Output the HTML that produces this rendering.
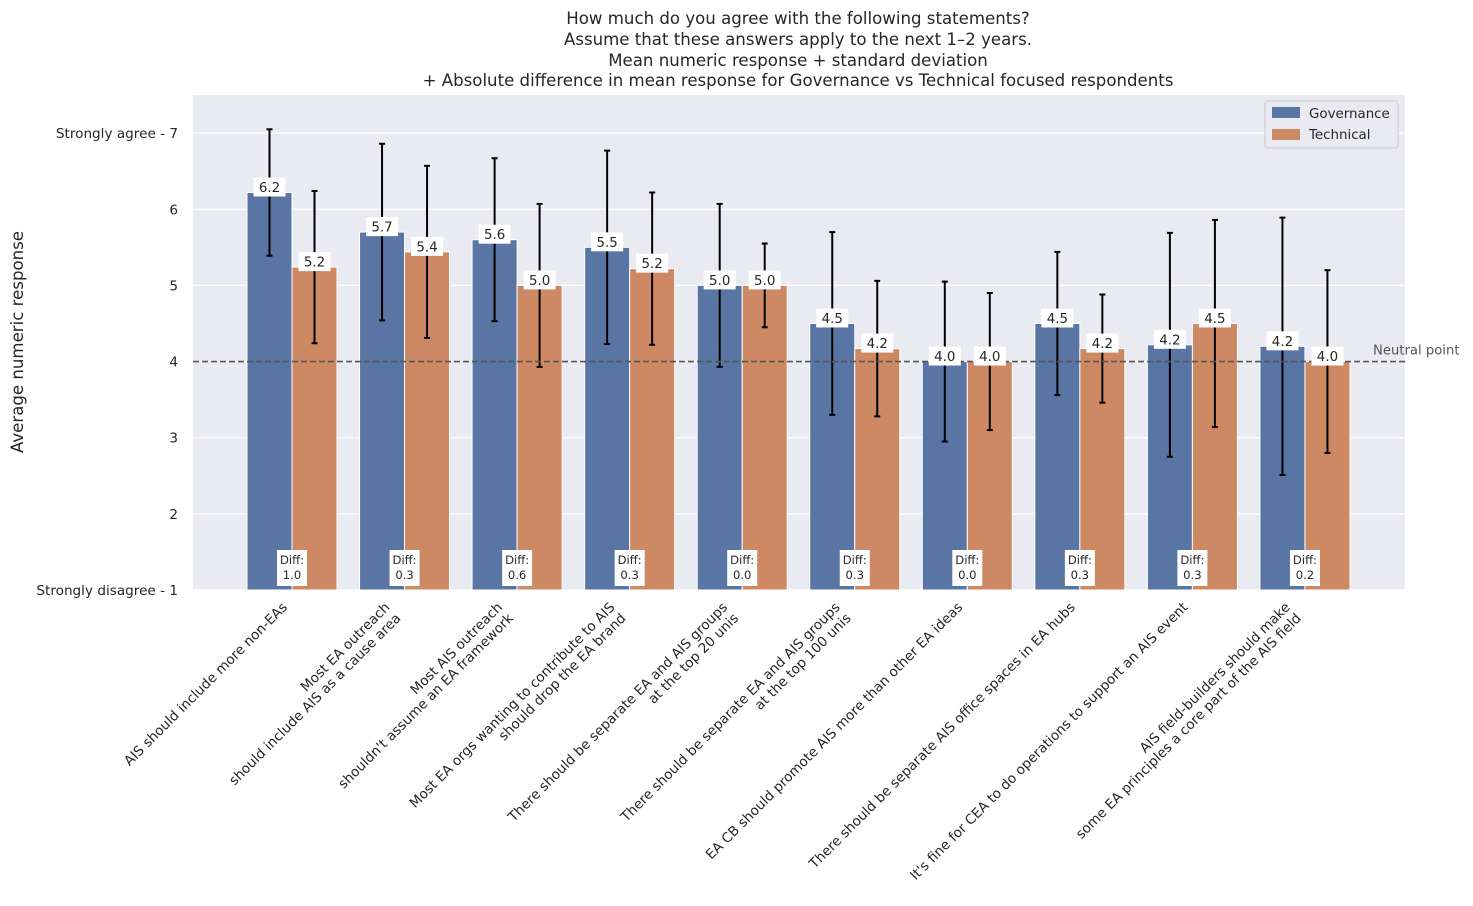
<!DOCTYPE html>
<html><head><meta charset="utf-8"><style>
body{margin:0;background:#fff}
svg text{font-family:"DejaVu Sans","Liberation Sans",sans-serif;fill:#262626}
</style></head><body>
<svg id="chart" width="1473" height="901" xmlns="http://www.w3.org/2000/svg">
<g font-size="16.6" text-anchor="middle">
<text x="798" y="24">How much do you agree with the following statements?</text>
<text x="798" y="45">Assume that these answers apply to the next 1–2 years.</text>
<text x="798" y="66">Mean numeric response + standard deviation</text>
<text x="798" y="86">+ Absolute difference in mean response for Governance vs Technical focused respondents</text>
</g>
<rect x="193" y="95" width="1212" height="495" fill="#eaeaf2"/>
<g id="grid"></g>
<g id="bars"></g>
<g id="errs"></g>
<g id="vlabels"></g>
<text transform="rotate(-90 23 342)" x="23" y="342" font-size="16.6" text-anchor="middle">Average numeric response</text>
<g id="xlabels" font-size="13.6" text-anchor="end"></g>
<g>
<rect x="1265" y="101" width="133" height="47" fill="#eaeaf2" stroke="#cccccc" rx="3"/>
<rect x="1272" y="107" width="28" height="11" fill="#5975a4"/>
<text x="1309" y="118" font-size="13.4">Governance</text>
<rect x="1272" y="129" width="28" height="11" fill="#cc8963"/>
<text x="1309" y="139" font-size="13.4">Technical</text>
</g>
</svg>
<script>
const categories=[["AIS should include more non-EAs"],["Most EA outreach","should include AIS as a cause area"],["Most AIS outreach","shouldn't assume an EA framework"],["Most EA orgs wanting to contribute to AIS","should drop the EA brand"],["There should be separate EA and AIS groups","at the top 20 unis"],["There should be separate EA and AIS groups","at the top 100 unis"],["EA CB should promote AIS more than other EA ideas"],["There should be separate AIS office spaces in EA hubs"],["It's fine for CEA to do operations to support an AIS event"],["AIS field-builders should make","some EA principles a core part of the AIS field"]];
const govMean=[6.22,5.7,5.6,5.5,5.0,4.5,4.0,4.5,4.22,4.2];
const govSd=[0.83,1.16,1.07,1.27,1.07,1.2,1.05,0.94,1.47,1.69];
const techMean=[5.24,5.44,5.0,5.22,5.0,4.17,4.0,4.17,4.5,4.0];
const techSd=[1.0,1.13,1.07,1.0,0.55,0.89,0.9,0.71,1.36,1.2];
const diffs=["1.0","0.3","0.6","0.3","0.0","0.3","0.0","0.3","0.3","0.2"];
const yTicks=[1,2,3,4,5,6,7];
const yTickLabels=["Strongly disagree - 1","2","3","4","5","6","Strongly agree - 7"];
const NS="http://www.w3.org/2000/svg";
const y=v=>590-(v-1)*76.15;
const x=i=>292+i*112.55;
const bw=45;
function mk(tag,attrs,parent,txt){const e=document.createElementNS(NS,tag);for(const k in attrs)e.setAttribute(k,attrs[k]);if(txt!==undefined)e.textContent=txt;parent.appendChild(e);return e;}
const svg=document.getElementById('chart');
const grid=document.getElementById('grid');
yTicks.forEach((t,k)=>{
  const l=mk('line',{x1:193,x2:1405,y1:y(t),y2:y(t),stroke:'#fff','stroke-width':1.2},grid);
  
  
  const tx=mk('text',{x:178,y:y(t)+5,'font-size':13.6,'text-anchor':'end'},svg,yTickLabels[k]);
  
  
});
const bars=document.getElementById('bars');
const errs=document.getElementById('errs');
const vl=document.getElementById('vlabels');
function bar(xl,v,sd,color,name){
  const r=mk('rect',{x:xl,y:y(v),width:bw,height:590-y(v),fill:color,stroke:'#fff','stroke-width':1},bars);
  
  
  const cx=xl+bw/2;
  const e=mk('g',{stroke:'#000','stroke-width':2},errs);
  
  
  mk('line',{x1:cx,x2:cx,y1:y(v+sd),y2:y(v-sd)},e);
  mk('line',{x1:cx-3,x2:cx+3,y1:y(v+sd),y2:y(v+sd)},e);
  mk('line',{x1:cx-3,x2:cx+3,y1:y(v-sd),y2:y(v-sd)},e);
  const g=mk('g',{},vl);
  
  
  mk('rect',{x:cx-16,y:y(v)-15,width:32,height:19,fill:'#fff'},g);
  mk('text',{x:cx,y:y(v)-0.5,'font-size':13.4,'text-anchor':'middle'},g,v.toFixed(1));
}
govMean.forEach((v,i)=>{
  bar(x(i)-bw,v,govSd[i],'#5975a4','bar-governance-'+i);
  bar(x(i),techMean[i],techSd[i],'#cc8963','bar-technical-'+i);
  const g=mk('g',{},vl);
  
  
  mk('rect',{x:x(i)-15,y:550,width:30,height:36,fill:'#fff'},g);
  mk('text',{x:x(i),y:564,'font-size':11.6,'text-anchor':'middle'},g,'Diff:');
  mk('text',{x:x(i),y:579,'font-size':11.6,'text-anchor':'middle'},g,diffs[i]);
});
const nl=mk('line',{x1:193,x2:1405,y1:y(4),y2:y(4),stroke:'#555','stroke-width':1.6,'stroke-dasharray':'6,3'},errs);


const nt=mk('text',{x:1373,y:y(4)-7,'font-size':13.2},svg,'Neutral point');
nt.style.fill='#555';


const xl=document.getElementById('xlabels');
categories.forEach((c,i)=>{
  const ax=c.length===1?x(i)-4:x(i)-14;
  const ay=c.length===1?608:608;
  const t=mk('text',{transform:`rotate(-45 ${ax} ${ay})`},xl);
  
  
  c.forEach((line,k)=>{mk('tspan',{x:ax,y:ay+k*15.5},t,line);});
});
</script>
</body></html>
